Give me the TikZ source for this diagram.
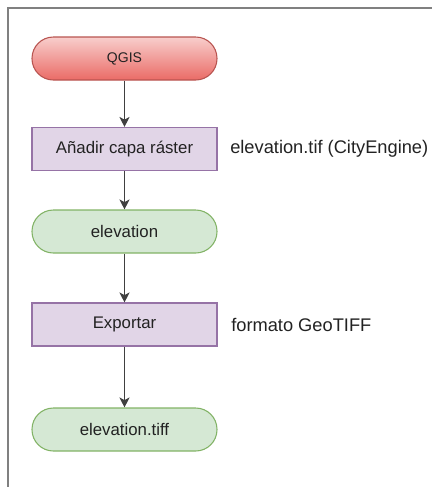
\documentclass[tikz,border=0pt]{standalone}
\usepackage{fontspec}
\setmainfont{Liberation Sans}
\usetikzlibrary{arrows.meta}
\definecolor{qred}{HTML}{F8CECC}
\definecolor{qreddark}{HTML}{EA6B66}
\definecolor{qredline}{HTML}{B85450}
\definecolor{qviolet}{HTML}{E1D5E7}
\definecolor{qvioletline}{HTML}{9673A6}
\definecolor{qgreen}{HTML}{D5E8D4}
\definecolor{qgreenline}{HTML}{82B366}
\definecolor{qtext}{HTML}{222222}
\tikzset{
  box/.style={draw, align=center, minimum width=138.75pt, minimum height=32.25pt, line width=0.8pt, text=qtext, font=\fontsize{12.6}{14}\selectfont},
  kstart/.style={box, rounded corners=16pt, draw=qredline, top color=qred, bottom color=qreddark, font=\fontsize{10.5}{12}\selectfont},
  kstep/.style={box, fill=qviolet, draw=qvioletline},
  kfile/.style={box, rounded corners=16pt, fill=qgreen, draw=qgreenline},
  knote/.style={anchor=west, inner sep=0pt, text=qtext, font=\fontsize{13.7}{16}\selectfont},
  flow/.style={-{Stealth[length=7.5pt, width=7.5pt, inset=2pt]}, line width=1pt, draw=black!75},
}

\begin{document}
\begin{tikzpicture}[x=0.75pt, y=-0.75pt]
    \useasboundingbox (0,0) rectangle (432,487);
    \draw[gray, line width=1.1pt] (432,8) -- (8,8) -- (8,487);
    \node[kstart] (qgis) at (124.5,58.5) {QGIS};
    \node[kstep] (addlayer) at (124.5,149) {Añadir capa ráster};
    \node[knote] (tifnote) at (230,149) {elevation.tif (CityEngine)};
    \node[kfile] (elev) at (124.5,231.5) {elevation};
    \node[kstep] (export) at (124.5,324.5) {Exportar};
    \node[knote] (fmtnote) at (231,324.5) {formato GeoTIFF};
    \node[kfile] (tiff) at (124.5,429.5) {elevation.tiff};
    \draw[flow] (qgis) -- (addlayer);
    \draw[flow] (addlayer) -- (elev);
    \draw[flow] (elev) -- (export);
    \draw[flow] (export) -- (tiff);
  \end{tikzpicture}
\end{document}
